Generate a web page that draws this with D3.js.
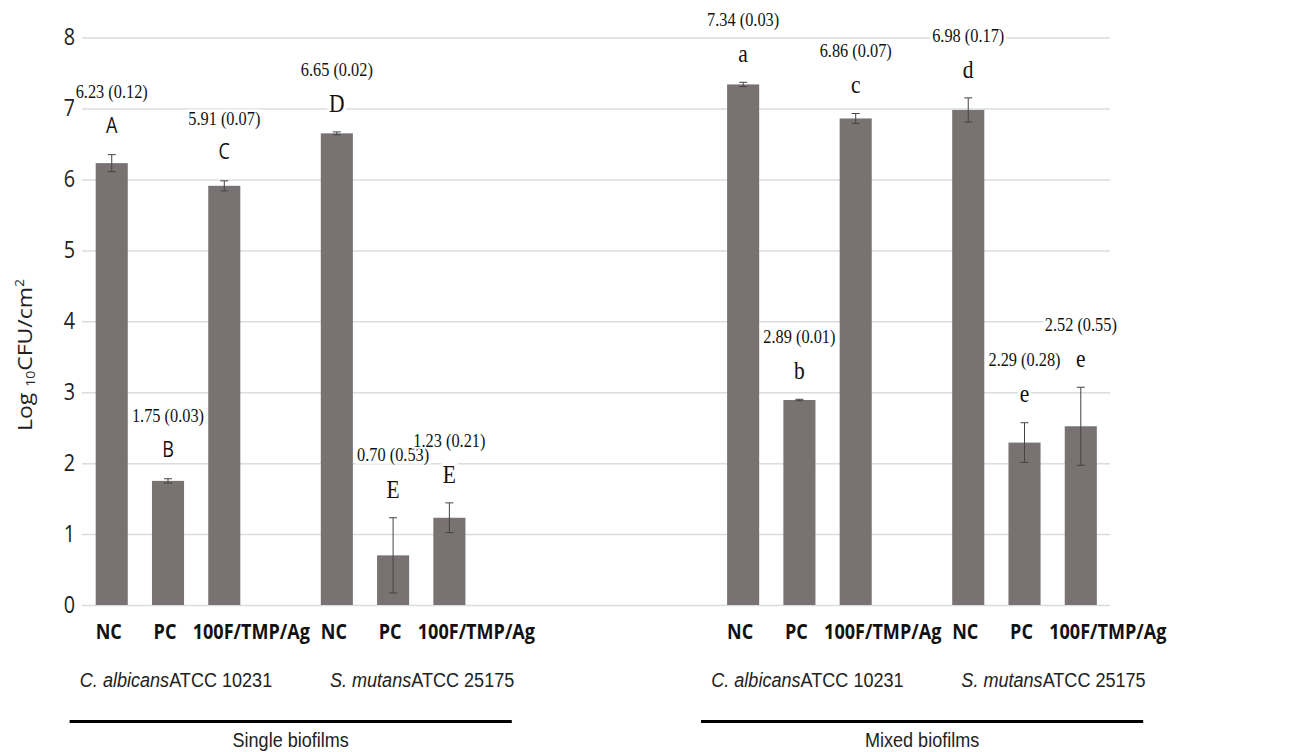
<!DOCTYPE html>
<html>
<head>
<meta charset="utf-8">
<script src="https://cdn.jsdelivr.net/npm/d3@7"></script>
<style>
body { margin: 0; background: #fff; }
</style>
</head>
<body>
<script>
// data
var panels = ["Single biofilms", "Mixed biofilms"];
var species = ["C. albicans", "S. mutans"];
var strains = ["ATCC 10231", "ATCC 25175"];
var treatments = ["NC", "PC", "100F/TMP/Ag"];

var meanSingle = [6.23, 1.75, 5.91, 6.65, 0.70, 1.23];
var sdSingle   = [0.12, 0.03, 0.07, 0.02, 0.53, 0.21];
var meanMixed  = [7.34, 2.89, 6.86, 6.98, 2.29, 2.52];
var sdMixed    = [0.03, 0.01, 0.07, 0.17, 0.28, 0.55];
var lettersSingle = ["A", "B", "C", "D", "E", "E"];
var lettersMixed  = ["a", "b", "c", "d", "e", "e"];
var yTicks = [0, 1, 2, 3, 4, 5, 6, 7, 8];

var W = 1295, H = 752;
var barColor = "#787372";
var sx = 0.86; // the source figure is squeezed sideways a bit
var SANS = "Open Sans, sans-serif", ARIAL = "Liberation Sans, Arial, sans-serif", SERIF = "Liberation Serif, serif";

var svg = d3.select("body").append("svg").attr("width", W).attr("height", H);
svg.append("rect").attr("width", W).attr("height", H).attr("fill", "#fff");

var y = d3.scaleLinear().domain([0, 8]).range([605, 37.6]);
var xPanel = d3.scaleBand().domain(panels).range([83.6, 1165.2]).paddingInner(0.287);
var xSpecies = d3.scaleBand().domain(species).range([0, xPanel.bandwidth()]);
var xTreat = d3.scaleBand().domain(treatments.concat(["gap"])).range([0, xSpecies.bandwidth()])
    .paddingInner(0.43).paddingOuter(0.215);

// build rows
var rows = [];
panels.forEach(function (p, pi) {
  var m = pi == 0 ? meanSingle : meanMixed;
  var s = pi == 0 ? sdSingle : sdMixed;
  var l = pi == 0 ? lettersSingle : lettersMixed;
  species.forEach(function (sp, si) {
    treatments.forEach(function (t, ti) {
      var i = si * 3 + ti;
      rows.push({panel: p, pi: pi, species: sp, si: si, treat: t, ti: ti, mean: m[i], sd: s[i], letter: l[i]});
    });
  });
});
function bx(d) { return xPanel(d.panel) + xSpecies(d.species) + xTreat(d.treat); }
function cx(d) { return bx(d) + xTreat.bandwidth() / 2; }

// squeezed text helper
function txt(parent, x, yy, size, family) {
  return parent.append("g").attr("transform", "translate(" + x + "," + yy + ") scale(" + sx + ",1)")
    .append("text").attr("dy", "0.35em").attr("text-anchor", "middle")
    .attr("font-size", size).attr("font-family", family).attr("fill", "#111");
}

// gridlines + tick labels
var yAxis = d3.axisLeft(y).tickValues(yTicks).tickSize(-(1110 - 82)).tickPadding(8).tickFormat(d3.format("d"));
var ga = svg.append("g").attr("transform", "translate(82,0)").call(yAxis);
ga.select(".domain").remove();
ga.selectAll(".tick line").attr("stroke", "#dcdcdc").attr("stroke-width", 1.5);
ga.selectAll(".tick text").attr("font-family", SANS).attr("font-size", 23)
  .attr("fill", "#222").attr("x", -7 / sx).attr("transform", "scale(" + sx + ",1)");

// annotations (value label + letter) with white backing
var ann = svg.append("g");
rows.forEach(function (d) {
  var top = y(d.mean + d.sd);
  var ly = top - 29;
  var vy = ly - 34;
  var sans = d.pi == 0 && d.si == 0;
  var t1 = txt(ann, cx(d), vy, 19, SERIF).text(d.mean.toFixed(2) + " (" + d.sd.toFixed(2) + ")");
  var t2 = txt(ann, cx(d), ly, sans ? 21 : 25, sans ? SANS : SERIF).text(d.letter);
  [t1, t2].forEach(function (t) {
    var b = t.node().getBBox();
    d3.select(t.node().parentNode).insert("rect", "text")
      .attr("x", b.x - 2).attr("y", b.y + 2).attr("width", b.width + 4)
      .attr("height", b.height - 4).attr("fill", "#fff");
  });
});

// bars
svg.append("g").selectAll("rect").data(rows).enter().append("rect")
  .attr("x", bx).attr("width", xTreat.bandwidth())
  .attr("y", function (d) { return y(d.mean); })
  .attr("height", function (d) { return y(0) - y(d.mean); })
  .attr("fill", barColor);

// error bars
var eg = svg.append("g").attr("stroke", "#444").attr("stroke-width", 1);
rows.forEach(function (d) {
  var lo = y(d.mean - d.sd), hi = y(d.mean + d.sd), c = cx(d);
  eg.append("line").attr("x1", c).attr("x2", c).attr("y1", lo).attr("y2", hi);
  eg.append("line").attr("x1", c - 4).attr("x2", c + 4).attr("y1", hi).attr("y2", hi);
  eg.append("line").attr("x1", c - 4).attr("x2", c + 4).attr("y1", lo).attr("y2", lo);
});

// treatment labels
var tl = svg.append("g");
rows.forEach(function (d) {
  txt(tl, d.ti == 2 ? cx(d) + 27 : cx(d) - 3, 632, 21, SANS).attr("font-weight", "bold").text(d.treat);
});

// species labels + panel lines
panels.forEach(function (p) {
  species.forEach(function (sp, si) {
    var mid = xPanel(p) + xSpecies(sp) + xTreat(treatments[1]) + xTreat.bandwidth() / 2 + 8 + si * 21;
    var t = txt(svg, mid, 680, 21, ARIAL).attr("fill", "#222");
    t.append("tspan").attr("font-style", "italic").text(sp);
    t.append("tspan").text(strains[si]);
  });
  var x0 = xPanel(p) - 14, x1 = xPanel(p) + xPanel.bandwidth() - 22;
  svg.append("line").attr("x1", x0).attr("x2", x1).attr("y1", 721.5).attr("y2", 721.5)
    .attr("stroke", "#000").attr("stroke-width", 3);
  txt(svg, (x0 + x1) / 2, 740, 21, ARIAL).attr("fill", "#222").text(p);
});

// y axis title
var yt = svg.append("text").attr("transform", "translate(32,355) rotate(-90) scale(1," + sx + ")")
  .attr("text-anchor", "middle").attr("font-family", SANS)
  .attr("font-size", 23).attr("fill", "#222");
yt.append("tspan").text("Log ");
yt.append("tspan").attr("font-size", 14).attr("dy", 4).text("10");
yt.append("tspan").attr("dy", -4).text("CFU/cm");
yt.append("tspan").attr("font-size", 14).attr("dy", -9).text("2");
</script>
</body>
</html>
